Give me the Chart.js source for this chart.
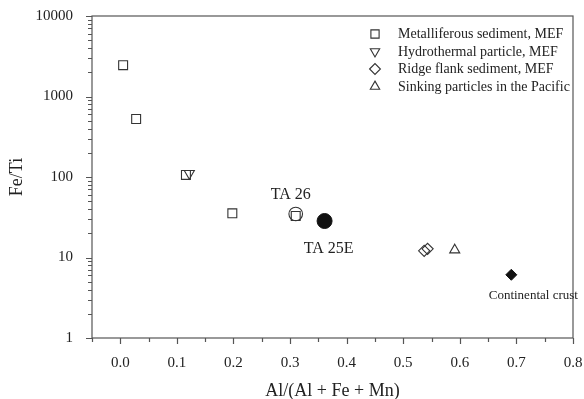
<!DOCTYPE html>
<html>
<head>
<meta charset="utf-8">
<script src="https://cdn.jsdelivr.net/npm/chart.js@4/dist/chart.umd.min.js"></script>
<style>
  html, body { margin: 0; padding: 0; background: #fff; }
  #wrap { width: 584px; height: 399px; }
</style>
</head>
<body>
<div id="wrap"><canvas id="feTi"></canvas></div>
<script>
// values: [Al/(Al+Fe+Mn), Fe/Ti]
const metalliferous = [[0.005, 2450], [0.028, 525], [0.116, 106], [0.198, 35.4], [0.31, 32.8]];
const hydrothermal = [[0.122, 111]];
const ridgeFlank = [[0.537, 12.1], [0.543, 12.8]];
const sinking = [[0.591, 12.4]];
const continental = [[0.691, 6.1]];
const ta26 = [[0.31, 34.7]];
const ta25e = [[0.361, 28.4]];

const seriesNames = ['Metalliferous sediment, MEF', 'Hydrothermal particle, MEF',
  'Ridge flank sediment, MEF', 'Sinking particles in the Pacific'];
const pointLabels = ['Continental crust', 'TA 26', 'TA 25E'];

const xTickLabels = [0.0, 0.1, 0.2, 0.3, 0.4, 0.5, 0.6, 0.7, 0.8];
const yTickLabels = [1, 10, 100, 1000, 10000];

const ink = '#333';
const serif = '"Liberation Serif", "Times New Roman", serif';

const toXY = arr => arr.map(p => ({ x: p[0], y: p[1] }));

function openPts(label, data, style, radius, rotation) {
  return {
    label: label, data: toXY(data), pointStyle: style, pointRadius: radius,
    pointRotation: rotation || 0, borderColor: ink, backgroundColor: 'rgba(0,0,0,0)',
    pointBorderWidth: 1.1, showLine: false
  };
}

const datasets = [
  openPts(seriesNames[0], metalliferous, 'rect', 6.3),
  openPts(seriesNames[1], hydrothermal, 'triangle', 5.8, 180),
  openPts(seriesNames[2], ridgeFlank, 'rectRot', 5.6),
  openPts(seriesNames[3], sinking, 'triangle', 5.8),
  { label: pointLabels[0], data: toXY(continental), pointStyle: 'rectRot', pointRadius: 5.5,
    borderColor: '#111', backgroundColor: '#111', pointBorderWidth: 1 },
  openPts(pointLabels[1], ta26, 'circle', 6.8),
  { label: pointLabels[2], data: toXY(ta25e), pointStyle: 'circle', pointRadius: 7.5,
    borderColor: '#111', backgroundColor: '#111', pointBorderWidth: 1 }
];

function noPad(s) {
  s.paddingTop = 0; s.paddingBottom = 0; s.paddingLeft = 0; s.paddingRight = 0;
}

// frame, tick marks, legend and point labels
const decor = {
  id: 'decor',
  afterDraw(chart) {
    const ctx = chart.ctx, a = chart.chartArea;
    const xs = chart.scales.x, ys = chart.scales.y;
    ctx.save();
    ctx.strokeStyle = '#555';
    ctx.lineWidth = 1.2;
    ctx.strokeRect(a.left, a.top, a.right - a.left, a.bottom - a.top);

    ctx.beginPath();
    for (let v = -0.05; v <= 0.801; v += 0.05) {
      const px = Math.round(xs.getPixelForValue(v)) + 0.5;
      const major = Math.abs(Math.round(v * 10) - v * 10) < 0.01;
      ctx.moveTo(px, a.bottom);
      ctx.lineTo(px, a.bottom + (major ? 6 : 4));
    }
    for (let d = 1; d < 10000; d *= 10) {
      for (let m = 1; m <= 10; m++) {
        const py = Math.round(ys.getPixelForValue(d * m)) + 0.5;
        const major = m === 1 || m === 10;
        ctx.moveTo(a.left, py);
        ctx.lineTo(a.left - (major ? 6 : 4), py);
      }
    }
    ctx.stroke();

    // legend
    const lx = a.left + 283, ly = a.top + 18, step = 17.5;
    ctx.font = '14px ' + serif;
    ctx.textBaseline = 'middle';
    ctx.textAlign = 'left';
    for (let i = 0; i < 4; i++) {
      const ds = chart.data.datasets[i];
      const y = ly + i * step;
      ctx.strokeStyle = ink;
      ctx.fillStyle = 'rgba(0,0,0,0)';
      ctx.lineWidth = 1.1;
      Chart.helpers.drawPoint(ctx, {
        pointStyle: ds.pointStyle, rotation: ds.pointRotation || 0,
        radius: ds.pointStyle === 'rect' ? 5.8 : 5.4, borderWidth: 1.1
      }, lx, y);
      ctx.fillStyle = '#222';
      ctx.fillText(ds.label, lx + 23, y + 0.5);
    }

    // point labels
    ctx.fillStyle = '#222';
    ctx.textAlign = 'center';
    const lab = (idx, dx, dy, size) => {
      const p = chart.getDatasetMeta(idx).data[0];
      ctx.font = size + 'px ' + serif;
      ctx.fillText(chart.data.datasets[idx].label, p.x + dx, p.y + dy);
    };
    lab(4, 22, 21, 13);
    lab(5, -5, -19, 16);
    lab(6, 4, 28, 16);
    ctx.restore();
  }
};

new Chart(document.getElementById('feTi').getContext('2d'), {
  type: 'scatter',
  data: { datasets: datasets },
  options: {
    responsive: true,
    maintainAspectRatio: false,
    animation: false,
    layout: { padding: { left: 0, right: 11, top: 16, bottom: 0 } },
    plugins: { legend: { display: false }, tooltip: { enabled: false } },
    scales: {
      x: {
        type: 'linear', min: -0.05, max: 0.8,
        afterBuildTicks: s => { s.ticks = xTickLabels.map(v => ({ value: v })); },
        afterFit: s => { s.height = 61; noPad(s); },
        grid: { display: true, drawOnChartArea: false, drawTicks: false },
        border: { display: false },
        ticks: {
          padding: 16, color: '#222', font: { family: serif, size: 15 },
          maxRotation: 0, autoSkip: false,
          callback: v => Number(v).toFixed(1)
        },
        title: { display: true, text: 'Al/(Al + Fe + Mn)', color: '#222',
          font: { family: serif, size: 18 }, padding: { top: 0, bottom: -3 } }
      },
      y: {
        type: 'logarithmic', min: 1, max: 10000,
        afterBuildTicks: s => { s.ticks = yTickLabels.map(v => ({ value: v })); },
        afterFit: s => { s.width = 92; noPad(s); },
        grid: { display: true, drawOnChartArea: false, drawTicks: false },
        border: { display: false },
        ticks: {
          padding: 19, color: '#222', font: { family: serif, size: 15 },
          autoSkip: false, callback: v => String(v)
        },
        title: { display: true, text: 'Fe/Ti', color: '#222',
          font: { family: serif, size: 18 }, padding: { top: 6, bottom: 0 } }
      }
    }
  },
  plugins: [decor]
});
</script>
</body>
</html>
